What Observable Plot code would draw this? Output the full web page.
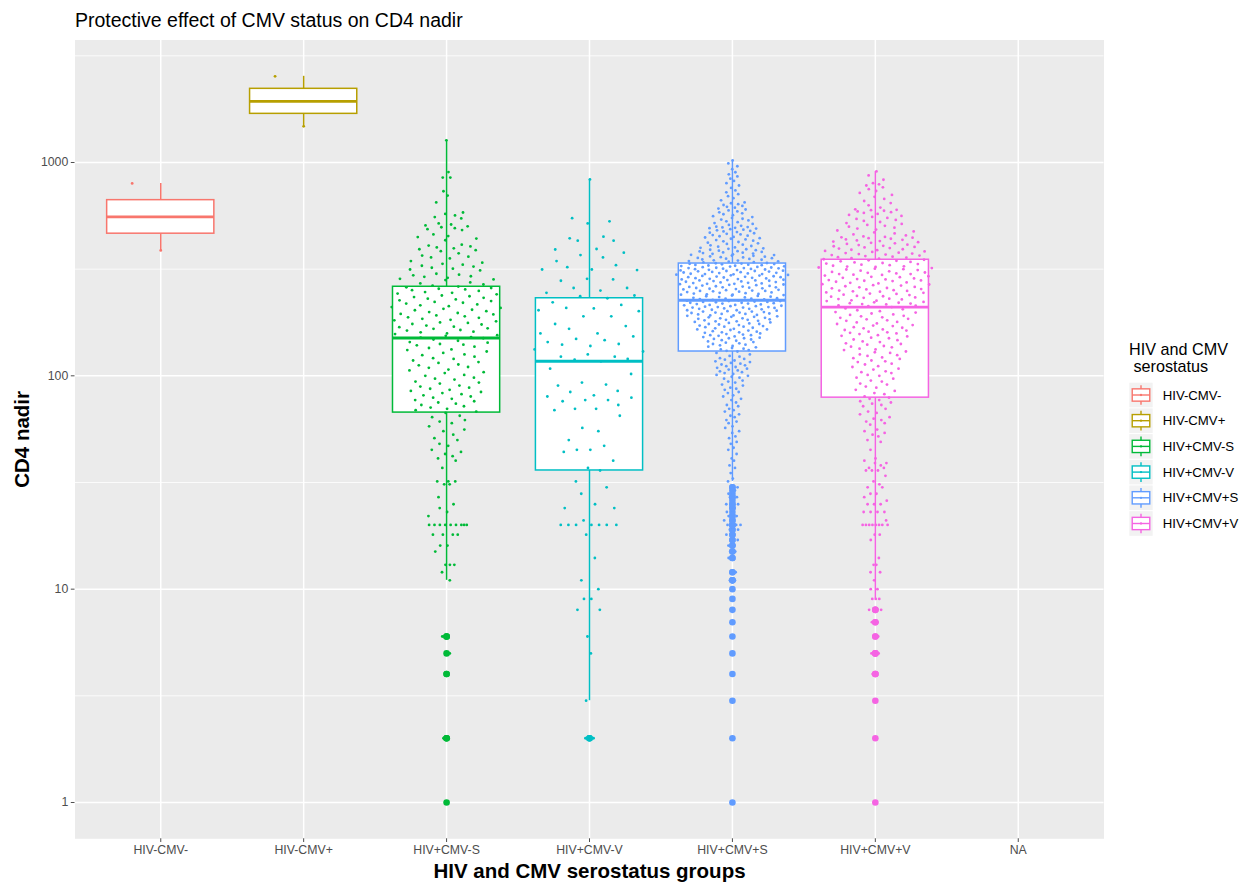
<!DOCTYPE html>
<html>
<head>
<meta charset="utf-8">
<script src="https://cdn.jsdelivr.net/npm/d3@7"></script>
<script src="https://cdn.jsdelivr.net/npm/@observablehq/plot@0.6"></script>
<style>
  body { margin: 0; background: #fff; font-family: "Liberation Sans", Arial, Helvetica, sans-serif; }
  #wrap { position: relative; width: 1245px; height: 882px; overflow: hidden; }
  #title { position: relative; height: 38px; }
  #title span { position: absolute; left: 75px; top: 10.8px; font-size: 19.5px; line-height: 19.5px; color: #000; white-space: nowrap; }
</style>
</head>
<body>
<div id="wrap">
  <div id="title"><span>Protective effect of CMV status on CD4 nadir</span></div>
  <div id="chart"></div>
</div>
<script>
// Serostatus groups on the x axis (NA has no observations)
const groups = ["HIV-CMV-", "HIV-CMV+", "HIV+CMV-S", "HIV+CMV-V", "HIV+CMV+S", "HIV+CMV+V", "NA"];
const groupColors = ["#F8766D", "#B79F00", "#00BA38", "#00BFC4", "#619CFF", "#F564E3"];
const majorBreaks = [1, 10, 100, 1000];
const minorBreaks = [3.162, 31.62, 316.2, 3162];

// CD4 nadir per participant, by group
const cd4HivNegCmvNeg = [387, 798];
const cd4HivNegCmvPos = [1477, 2535];
const cd4HivPosCmvNegS = [
  1, 2, 2, 2, 4, 4, 5, 6, 6, 6, 11, 12, 13, 13, 13, 15, 16, 16, 18, 18, 18, 18,
  20, 20, 20, 20, 20, 20, 20, 20, 20, 22, 23, 24, 25, 27, 31, 31, 32, 32, 32, 37,
  40, 41, 42, 43, 44, 45, 47, 48, 50, 51, 53, 55, 56, 58, 60, 61, 62, 64, 65,
  67, 68, 69, 70, 71, 72, 73, 74, 75, 76, 77, 78, 79, 80, 81, 82, 83, 84, 85, 86,
  87, 88, 89, 90, 92, 93, 94, 96, 97, 98, 100, 101, 103, 104, 106, 107, 109, 110,
  112, 113, 115, 116, 118, 120, 121, 123, 125, 126, 128, 130, 132, 133, 135, 137,
  139, 140, 141, 143, 144, 146, 148, 150, 151,
  152, 154, 155, 157, 158, 160, 161, 163, 164, 166, 167, 169, 170, 172, 174, 175,
  177, 178, 180, 182, 183, 185, 187, 188, 190, 192, 194, 195, 197, 199, 201, 203,
  204, 206, 208, 210, 212, 214, 216, 218, 220, 222, 224, 226, 228, 230, 232, 234,
  236, 238, 241, 243, 245, 247, 250, 252, 254, 256, 258, 260, 262,
  265, 268, 271, 274, 281, 283, 285, 288, 291, 293, 296, 298, 301, 312, 315, 318,
  321, 325, 328, 332, 335, 339, 345, 355, 359, 362, 366, 375, 384, 388, 392, 396,
  400, 404, 408, 412, 432, 440, 447, 452, 460, 482, 487, 492, 497, 502, 507, 512,
  518, 547, 555, 565, 574, 583, 650, 700, 733, 850, 850, 902, 1270
];
const cd4HivPosCmvNegV = [
  2, 2, 2, 3, 5, 6, 8, 8, 9, 9, 10, 11, 14, 18, 20, 20, 20, 20, 20, 20, 20, 21,
  24, 24, 25, 28, 30, 32,
  36, 37, 40, 44, 45, 45, 47, 50, 55, 57, 65, 69, 70, 70, 73, 76, 77, 77, 79, 80,
  81, 84, 85, 90, 91, 93, 102, 108, 117,
  119, 120, 123, 123, 126, 130, 133, 138, 140, 141, 144, 147, 149, 153, 158, 158,
  166, 171, 175, 190, 190, 201, 203, 207, 208, 215, 221, 231,
  236, 238, 245, 251, 258, 258, 279, 283, 285, 313, 315, 315, 323, 330, 345, 359,
  368, 378, 391, 393, 430, 430, 441, 449, 518, 530, 548, 833
];
const cd4HivPosCmvPosS = [
  1, 2, 3, 4, 5, 6, 7, 8, 9, 10, 11, 11, 11, 12, 12, 14, 14, 15, 15, 16, 16, 17,
  17, 18, 18, 19, 19, 20, 20, 20, 20, 21, 21, 22, 22, 23, 24, 24, 25, 25, 26, 27,
  27, 28, 29, 30, 30,
  32, 33, 35, 37, 38, 40, 41, 43, 45, 46, 48, 49, 51, 52, 54, 55, 57, 58, 60, 61,
  62, 64, 65, 66, 68, 69, 70, 72, 73,
  75, 77, 78, 80, 81, 83, 84, 86, 87, 88, 90, 91, 93, 94, 95, 97, 98, 99,
  100, 101, 102, 103, 104, 105, 106, 107, 108, 109, 110, 111, 112, 113, 114, 115,
  116, 117, 118, 119, 120, 121, 123, 124, 126, 128,
  130, 131, 132, 133, 134, 135, 136, 137, 138, 139, 140, 141, 142, 143, 144, 145,
  146, 147, 148, 149, 150, 150, 151, 152, 153, 154, 155, 155, 156, 157, 158, 159,
  160, 160, 161, 162, 163, 164, 165, 165, 166, 167, 168, 169, 170, 170, 171, 172,
  173, 174, 175, 175, 176, 177, 178, 179, 180, 180, 181, 182, 183, 183, 184, 185,
  186, 186, 187, 188, 189, 189, 190, 191, 192, 192, 193, 194, 195, 195, 196, 197,
  198, 198, 199, 200, 200, 201, 202, 203, 203, 204, 205, 206, 206, 207, 208, 209,
  209, 210, 210, 211, 212, 212, 213, 214, 215, 215, 216, 217, 218, 218, 219, 220,
  220, 221, 222, 222, 223, 224, 224, 225, 226,
  227, 228, 229, 230, 230, 231, 232, 233, 234, 235, 236, 237, 238, 239, 240, 240,
  241, 242, 243, 244, 245, 246, 247, 248, 249, 250, 250, 251, 252, 253, 254, 255,
  256, 257, 258, 259, 260, 260, 261, 262, 263, 264, 265, 266, 267, 268, 269, 270,
  270, 271, 272, 273, 274, 275, 276, 277, 278, 279, 280, 280, 281, 282, 283, 284,
  285, 286, 287, 288, 289, 290, 290, 291, 292, 293, 294, 295, 296, 297, 298, 299,
  300, 300, 301, 302, 303, 304, 305, 306, 307, 308, 309, 310, 310, 311, 312, 313,
  314, 315, 316, 317, 318, 319, 320, 320, 321, 322, 323, 324, 325, 326, 327, 328,
  329, 330, 331, 332, 333, 334, 335, 336,
  337, 338, 340, 341, 343, 344, 345, 347, 348, 350, 351, 353, 354, 356, 357, 359,
  360, 362, 363, 365, 366, 368, 369, 371, 373, 374, 376, 378, 379, 381, 383, 384,
  386, 388, 390, 392, 394, 396, 398, 400, 403, 406, 409, 412, 415, 418, 421, 424,
  427, 430, 433, 436, 439, 442, 445, 448, 451, 454, 457, 460, 463, 466, 469, 472,
  475, 478, 481, 484, 487, 490, 492, 494, 496, 498, 500, 505, 510, 515, 520, 525,
  530, 535, 540, 545, 550, 555, 560, 566, 572, 578, 584, 590, 596, 602, 608, 614,
  620, 626, 632, 638, 644, 650, 665, 680, 695, 710, 725, 740, 760, 780, 800, 820,
  840, 860, 880, 900, 930, 960, 990, 1023
];
const cd4HivPosCmvPosV = [
  1, 2, 3, 4, 4, 4, 5, 5, 5, 6, 6, 7, 7, 8, 8, 8,
  9, 9, 9, 10, 10, 11, 12, 12, 13, 13, 14, 17, 18, 18,
  20, 20, 20, 20, 20, 20, 20, 20, 21, 23, 23, 23, 23, 25, 25, 25, 26,
  27, 28, 28, 30, 30, 31, 32, 34, 36, 36, 36, 37, 37, 38, 39, 39, 40, 41,
  45, 49, 50, 52, 53, 54, 55, 56, 59, 60, 61, 62, 63, 64, 66, 67, 68, 70, 72, 73,
  74, 75, 76, 77, 78,
  79, 80, 82, 83, 85, 86, 88, 89, 91, 92, 94, 95, 97, 98, 100, 101, 103, 104, 105,
  107, 108, 110, 111, 113, 114, 116, 117, 118, 120, 121, 122, 124, 125, 126, 128,
  129, 130, 132, 133, 134, 136, 137, 138, 140, 141, 142, 144, 145, 147, 148, 150,
  151, 153, 154, 155, 157, 158, 159, 160, 161, 163, 164, 165, 167, 168, 169, 171,
  172, 173, 175, 176, 178, 179, 181, 182, 184, 185, 187, 188, 190, 191, 193, 194,
  196, 198, 199, 201, 203, 205, 207, 210,
  212, 213, 214, 216, 217, 218, 219, 220, 221, 222, 224, 225, 226, 228, 229, 230,
  232, 233, 235, 236, 237, 239, 240, 242, 243, 245, 246, 248, 249, 250, 251, 252,
  254, 255, 257, 258, 260, 261, 263, 265, 266, 268, 269, 271, 273, 274, 276, 278,
  279, 280, 281, 283, 284, 286, 288, 290, 291, 293, 295, 297, 298, 300, 300, 302,
  304, 305, 307, 309, 311, 313, 315, 316, 318, 320, 322, 324, 325, 326, 328, 330,
  332, 334, 336, 338, 340, 342, 344, 346, 348, 350,
  352, 354, 356, 358, 360, 362, 364, 366, 368, 370, 372, 374, 376, 378, 381, 383,
  385, 388, 390, 392, 395, 397, 400, 402, 405, 407, 410, 412, 415, 418, 420, 423,
  426, 428, 431, 434, 436, 439, 442, 444, 446, 448, 450, 455, 460, 465, 470, 475,
  480, 485, 490, 495, 500, 505, 510, 515, 520, 526, 532, 538, 544, 550, 556, 562,
  568, 574, 580, 585, 590, 594, 598, 600, 603, 615, 630, 645, 660, 675, 690, 705,
  720, 735, 750, 765, 780, 790, 800, 830, 870, 908
];
const cd4ByGroup = [cd4HivNegCmvNeg, cd4HivNegCmvPos, cd4HivPosCmvNegS, cd4HivPosCmvNegV, cd4HivPosCmvPosS, cd4HivPosCmvPosV];

// van der Corput sequence (base 2, starting at 1)
function vanDerCorput(n) {
  const out = [];
  for (let k = 1; k <= n; k++) {
    let x = k, f = 0.5, v = 0;
    while (x > 0) { v += f * (x & 1); x >>= 1; f /= 2; }
    out.push(v);
  }
  return out;
}

// quasirandom horizontal offsets (as in ggbeeswarm), computed on log10 values
function quasirandomOffsets(values, width = 0.4, adjust = 0.5) {
  const n = values.length;
  if (n < 2) return values.map(() => 0);
  const y = values.map(Math.log10);
  const s = d3.sort(y);
  const sd = d3.deviation(y);
  const iqr = d3.quantileSorted(s, 0.75) - d3.quantileSorted(s, 0.25);
  let lo = Math.min(sd, iqr / 1.34);
  if (!lo) lo = sd || Math.abs(s[0]) || 1;
  const bw = 0.9 * lo * Math.pow(n, -0.2) * adjust;
  const kde = t => d3.sum(y, v => Math.exp(-0.5 * ((t - v) / bw) ** 2));
  const a = s[0] - 3 * bw, b = s[n - 1] + 3 * bw;
  let maxD = 0;
  for (let k = 0; k < 1024; k++) maxD = Math.max(maxD, kde(a + (b - a) * k / 1023));
  const order = d3.range(n).sort((i, j) => y[i] - y[j] || i - j);
  const rank = new Array(n);
  order.forEach((idx, r) => (rank[idx] = r));
  const seq = vanDerCorput(n);
  return y.map((v, i) => (seq[rank[i]] - 0.5) * 2 * (kde(v) / maxD) * width);
}

// Tukey box statistics on the log10 scale
function boxStats(values) {
  const y = d3.sort(values.map(Math.log10));
  const q1 = d3.quantileSorted(y, 0.25), med = d3.quantileSorted(y, 0.5), q3 = d3.quantileSorted(y, 0.75);
  const iqr = q3 - q1, loF = q1 - 1.5 * iqr, hiF = q3 + 1.5 * iqr;
  const inside = y.filter(v => v >= loF && v <= hiF);
  return {
    q1: 10 ** q1, med: 10 ** med, q3: 10 ** q3,
    lo: 10 ** d3.min(inside), hi: 10 ** d3.max(inside),
    outliers: y.filter(v => v < loF || v > hiF).map(v => 10 ** v)
  };
}

const stats = [], outliers = [], points = [];
cd4ByGroup.forEach((vals, i) => {
  const group = groups[i];
  const st = boxStats(vals);
  stats.push({group, i, ...st});
  st.outliers.forEach(v => outliers.push({group, i, v}));
  const off = quasirandomOffsets(vals);
  vals.forEach((v, k) => points.push({group, i, v, x: i + off[k]}));
});

// y limits: data range on log10 scale with 5% expansion
const allLog = cd4ByGroup.flat().map(Math.log10);
const [lmin, lmax] = d3.extent(allLog);
const pad = (lmax - lmin) * 0.05;
const halfBox = 0.375;
const ink = "#4D4D4D";

const chart = Plot.plot({
  width: 1245,
  height: 844,
  marginTop: 1.5,
  marginBottom: 43.7,
  marginLeft: 74.5,
  marginRight: 141.5,
  style: {fontFamily: "'Liberation Sans', Arial, Helvetica, sans-serif", background: "transparent"},
  x: {type: "linear", domain: [-0.6, groups.length - 1 + 0.6]},
  y: {type: "log", domain: [10 ** (lmin - pad), 10 ** (lmax + pad)]},
  color: {type: "ordinal", domain: groups.slice(0, 6), range: groupColors},
  marks: [
    Plot.frame({fill: "#EBEBEB", stroke: null}),
    Plot.gridY(minorBreaks, {stroke: "white", strokeOpacity: 1, strokeWidth: 0.8}),
    Plot.gridY(majorBreaks, {stroke: "white", strokeOpacity: 1, strokeWidth: 1.5}),
    Plot.gridX(groups.map((g, i) => i), {stroke: "white", strokeOpacity: 1, strokeWidth: 1.5}),
    // boxplot outliers
    Plot.dot(outliers, {x: "i", y: "v", r: 3.3, fill: "group", stroke: null}),
    // whiskers
    Plot.ruleX(stats, {x: "i", y1: "lo", y2: "q1", stroke: "group", strokeWidth: 1.5}),
    Plot.ruleX(stats, {x: "i", y1: "q3", y2: "hi", stroke: "group", strokeWidth: 1.5}),
    // boxes and medians
    Plot.rect(stats, {x1: d => d.i - halfBox, x2: d => d.i + halfBox, y1: "q1", y2: "q3", fill: "white", stroke: "group", strokeWidth: 1.5}),
    Plot.ruleY(stats, {y: "med", x1: d => d.i - halfBox, x2: d => d.i + halfBox, stroke: "group", strokeWidth: 2.9}),
    // individual participants
    Plot.dot(points, {x: "x", y: "v", r: 1.4, fill: "group", stroke: null}),
    // axes
    Plot.axisY(majorBreaks, {tickSize: 3.7, tickPadding: 3, tickFormat: d => String(d), fontSize: 12.3, color: ink, label: null}),
    Plot.axisX(groups.map((g, i) => i), {tickSize: 3.7, tickPadding: 3, tickFormat: i => groups[i], fontSize: 12.3, color: ink, label: null}),
    Plot.text(["HIV and CMV serostatus groups"], {frameAnchor: "bottom", textAnchor: "middle", lineAnchor: "middle", dy: 32.5, fontSize: 20.5, fontWeight: "bold", fill: "black"}),
    Plot.text(["CD4 nadir"], {frameAnchor: "left", rotate: -90, textAnchor: "middle", lineAnchor: "middle", dx: -52.5, fontSize: 20.5, fontWeight: "bold", fill: "black"})
  ]
});
document.getElementById("chart").appendChild(chart);

// legend: boxplot key glyphs with group labels
const leg = d3.create("svg")
  .attr("width", 120).attr("height", 215)
  .style("position", "absolute").style("left", "1125px").style("top", "335px")
  .style("overflow", "visible")
  .style("font-family", "'Liberation Sans', Arial, Helvetica, sans-serif");
const lt = leg.append("text").attr("font-size", 16.2).attr("fill", "#000").style("white-space", "pre");
lt.append("tspan").attr("x", 4).attr("y", 20).text("HIV and CMV");
lt.append("tspan").attr("x", 4).attr("y", 36.7).text(" serostatus");
const keyW = 23.4, keyH = 24.6, rowH = 25.7;
groups.slice(0, 6).forEach((g, k) => {
  const c = groupColors[k];
  const y0 = 47.7 + rowH * k;
  const key = leg.append("g").attr("transform", `translate(4.3,${y0})`);
  key.append("rect").attr("width", keyW).attr("height", keyH).attr("fill", "#F2F2F2");
  key.append("line").attr("x1", keyW / 2).attr("x2", keyW / 2).attr("y1", keyH * 0.1).attr("y2", keyH * 0.9)
    .attr("stroke", c).attr("stroke-width", 1.4);
  key.append("rect").attr("x", keyW * 0.125).attr("y", keyH * 0.25).attr("width", keyW * 0.75).attr("height", keyH * 0.5)
    .attr("fill", "white").attr("stroke", c).attr("stroke-width", 1.4);
  key.append("line").attr("x1", keyW * 0.125).attr("x2", keyW * 0.875).attr("y1", keyH / 2).attr("y2", keyH / 2)
    .attr("stroke", c).attr("stroke-width", 1.4);
  key.append("circle").attr("cx", keyW / 2).attr("cy", keyH / 2).attr("r", 1.15).attr("fill", c);
  leg.append("text").attr("x", 37.7).attr("y", y0 + keyH / 2).attr("dominant-baseline", "central")
    .attr("font-size", 13.2).attr("fill", "#000").text(g);
});
document.getElementById("wrap").appendChild(leg.node());
</script>
</body>
</html>
